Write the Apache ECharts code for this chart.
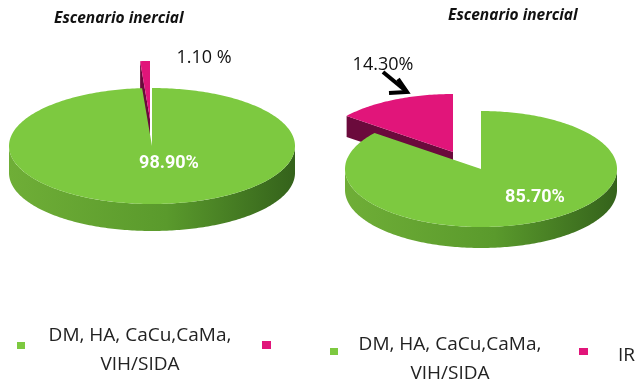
<!DOCTYPE html>
<html>
<head>
<meta charset="utf-8">
<script src="https://cdn.jsdelivr.net/npm/echarts@6/dist/echarts.min.js"></script>
<style>
html, body { margin: 0; padding: 0; background: #fff; }
#chart { width: 637px; height: 384px; }
</style>
</head>
<body>
<div id="chart"></div>
<script>
// datos (%)
const categories = ['DM, HA, CaCu,CaMa,\nVIH/SIDA', 'IR'];
const leftValues = [98.9, 1.1];
const rightValues = [85.7, 14.3];
const leftLabels = ['98.90%', '1.10 %'];
const rightLabels = ['85.70%', '14.30%'];
const titleText = 'Escenario inercial';

const topColors = ['#7dc940', '#e1157a'];
const faceColors = ['#4c8a26', '#6b0a3c'];
const sideStops = [
  [{ offset: 0, color: '#6fae37' }, { offset: 0.55, color: '#5a9a2c' }, { offset: 1, color: '#34621b' }],
  [{ offset: 0, color: '#8a0e4e' }, { offset: 1, color: '#5a0833' }]
];

// geometria de cada pastel (elipse + grosor + separación)
const pies = [
  { values: leftValues, labels: leftLabels, cx: 152, cy: 146, rx: 143, ry: 58, depth: 27,
    explode: [[0, 0], [-2, -27]], labelPos: [[169, 163], [204, 58]] },
  { values: rightValues, labels: rightLabels, cx: 481, cy: 169, rx: 136, ry: 58, depth: 21,
    explode: [[0, 0], [-28, -17]], labelPos: [[535, 197], [383, 65]] }
];

function ellPt(p, a, dx, dy, down) {
  const r = a * Math.PI / 180;
  return [p.cx + dx + p.rx * Math.cos(r), p.cy + dy - p.ry * Math.sin(r) + (down || 0)];
}

function arcPts(p, a0, a1, dx, dy, down) {
  const pts = [];
  const n = Math.max(2, Math.ceil(Math.abs(a1 - a0)));
  for (let i = 0; i <= n; i++) pts.push(ellPt(p, a0 + (a1 - a0) * i / n, dx, dy, down));
  return pts;
}

function makeRender(p) {
  const total = p.values.reduce((s, v) => s + v, 0);
  return function (params, api) {
    const i = params.dataIndex;
    const v = api.value(0);
    let cum = 0;
    for (let k = 0; k < i; k++) cum += p.values[k];
    // Excel: empieza a las 12 y gira en sentido horario
    const hi = 90 - cum / total * 360;
    const lo = hi - v / total * 360;
    const dx = p.explode[i][0], dy = p.explode[i][1];
    const base = (dx || dy) ? 0 : 10;
    const c = [p.cx + dx, p.cy + dy];
    const children = [];

    // pared exterior (sólo la mitad frontal)
    for (let k = -2; k <= 1; k++) {
      const s = Math.max(lo, 180 + 360 * k), e = Math.min(hi, 360 + 360 * k);
      if (e > s) {
        const top = arcPts(p, s, e, dx, dy, 0);
        const bot = arcPts(p, e, s, dx, dy, p.depth);
        children.push({
          type: 'polygon', z2: base,
          shape: { points: top.concat(bot) },
          style: { fill: new echarts.graphic.LinearGradient(0, 0, 1, 0, sideStops[i]) }
        });
      }
    }

    // caras radiales visibles
    [[hi, Math.cos(hi * Math.PI / 180) < -1e-6], [lo, Math.cos(lo * Math.PI / 180) > 1e-6]].forEach(function (f) {
      if (!f[1]) return;
      const r = ellPt(p, f[0], dx, dy, 0);
      children.push({
        type: 'polygon', z2: base + 1,
        shape: { points: [c, r, [r[0], r[1] + p.depth], [c[0], c[1] + p.depth]] },
        style: { fill: faceColors[i] }
      });
    });

    // cara superior
    children.push({
      type: 'polygon', z2: base + 2,
      shape: { points: [c].concat(arcPts(p, lo, hi, dx, dy, 0)) },
      style: { fill: topColors[i] }
    });

    // etiqueta
    const lp = p.labelPos[i];
    children.push({
      type: 'text', z2: 40, x: lp[0], y: lp[1],
      style: i === 0 ? {
        text: p.labels[i], fill: '#fff', font: 'bold 18px Roboto',
        align: 'center', verticalAlign: 'middle'
      } : {
        text: p.labels[i], fill: '#111', font: '18px "Open Sans"',
        align: 'center', verticalAlign: 'middle'
      }
    });

    return { type: 'group', children: children };
  };
}

const titleStyle = {
  fontFamily: 'Open Sans', fontStyle: 'italic', fontWeight: 'bold', fontSize: 15.5, color: '#111'
};
const legendFont = '19px "Open Sans"';

const chart = echarts.init(document.getElementById('chart'));
chart.setOption({
  backgroundColor: '#fff',
  animation: false,
  title: [
    { text: titleText, left: 54, top: 11, padding: 0, textStyle: titleStyle },
    { text: titleText, left: 448, top: 8, padding: 0, textStyle: titleStyle }
  ],
  series: pies.map(function (p, n) {
    return {
      type: 'custom',
      name: n === 0 ? 'izquierda' : 'derecha',
      coordinateSystem: 'none',
      renderItem: makeRender(p),
      data: p.values.map(function (v) { return [v]; })
    };
  }),
  graphic: [
    // flecha 14.30%
    { type: 'polyline', shape: { points: [[383, 72], [406, 91]] }, style: { stroke: '#000', lineWidth: 4 } },
    { type: 'polyline', shape: { points: [[398, 79], [407, 92], [389, 93]] }, style: { stroke: '#000', lineWidth: 4, fill: null } },
    // leyenda izquierda
    { type: 'rect', shape: { x: 17, y: 342, width: 8, height: 7 }, style: { fill: topColors[0] } },
    { type: 'text', x: 140, y: 350.5, style: { text: categories[0], font: legendFont, fill: '#222', align: 'center', verticalAlign: 'middle', lineHeight: 29 } },
    { type: 'rect', shape: { x: 262, y: 341, width: 9, height: 8 }, style: { fill: topColors[1] } },
    // leyenda derecha
    { type: 'rect', shape: { x: 330, y: 348, width: 8, height: 7 }, style: { fill: topColors[0] } },
    { type: 'text', x: 450, y: 359.5, style: { text: categories[0], font: legendFont, fill: '#222', align: 'center', verticalAlign: 'middle', lineHeight: 29 } },
    { type: 'rect', shape: { x: 579, y: 348, width: 9, height: 7 }, style: { fill: topColors[1] } },
    { type: 'text', x: 618, y: 356, style: { text: categories[1], font: legendFont, fill: '#222', align: 'left', verticalAlign: 'middle' } }
  ]
});
</script>
</body>
</html>
